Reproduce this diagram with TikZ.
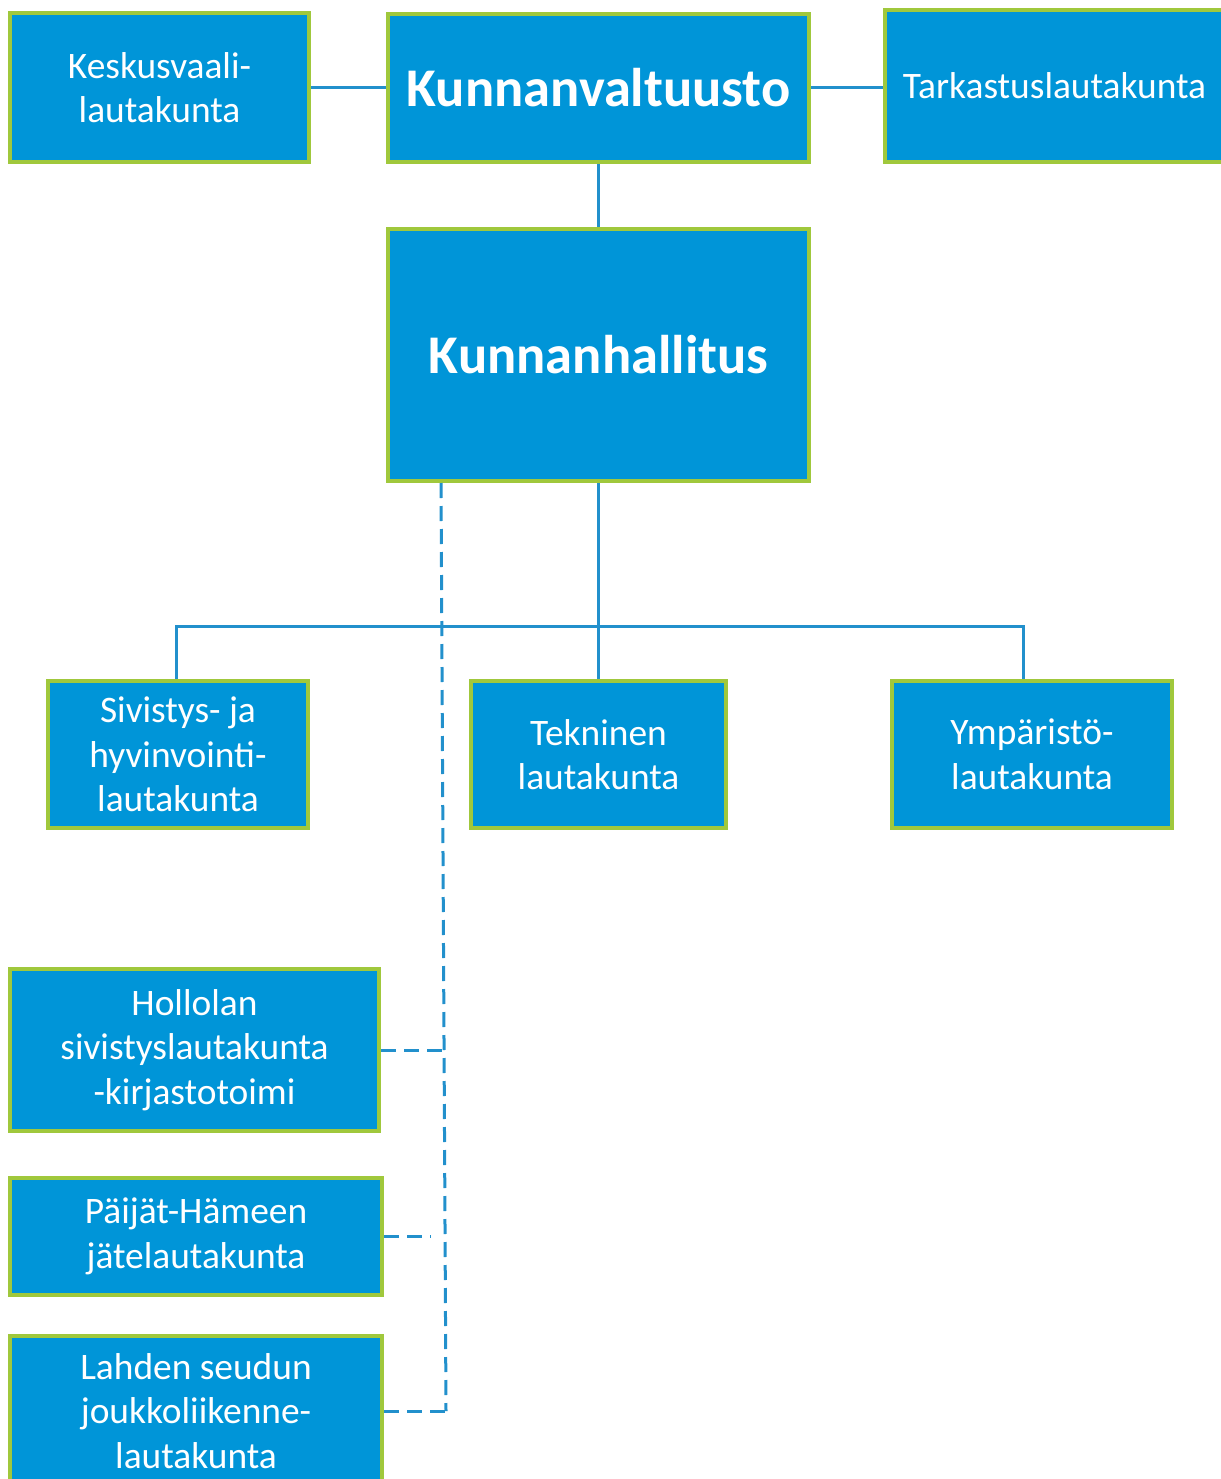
\documentclass[tikz,border=0pt]{standalone}
\usepackage{fontspec}
\setmainfont{Carlito}
\definecolor{boxfill}{RGB}{0,149,216}
\definecolor{boxedge}{RGB}{160,200,60}
\definecolor{linkcol}{RGB}{34,144,204}
\tikzset{
  orgbox/.style={draw=boxedge, fill=boxfill, line width=4pt, inner sep=0pt,
    text=white, align=center, font=\fontsize{37.4}{44.5}\selectfont},
  bigbox/.style={orgbox, font=\bfseries\fontsize{54.5}{60}\selectfont},
  link/.style={draw=linkcol, line width=3pt},
  dlink/.style={link, dash pattern=on 15pt off 8pt}
}
\begin{document}
\begin{tikzpicture}[x=1pt,y=-1pt]
\useasboundingbox (0,0) rectangle (1220,1479);
\node[orgbox, minimum width=299pt, minimum height=149pt] (kv) at (159.5,87.5) {Keskusvaali-\\lautakunta};
\node[bigbox, minimum width=421pt, minimum height=148pt] (val) at (598.5,88) {Kunnanvaltuusto};
\node[orgbox, minimum width=339pt, minimum height=152pt] (tark) at (1054.5,86) {Tarkastuslautakunta};
\node[bigbox, minimum width=421pt, minimum height=252pt] (hall) at (598.5,355) {Kunnanhallitus};
\node[orgbox, minimum width=260pt, minimum height=147pt] (siv) at (178,754.5) {Sivistys- ja\\hyvinvointi-\\lautakunta};
\node[orgbox, minimum width=255pt, minimum height=147pt] (tek) at (598.5,754.5) {Tekninen\\lautakunta};
\node[orgbox, minimum width=280pt, minimum height=147pt] (ymp) at (1032,754.5) {Ympäristö-\\lautakunta};
\node[orgbox, minimum width=369pt, minimum height=162pt] (hol) at (194.5,1050) {Hollolan\\sivistyslautakunta\\-kirjastotoimi};
\node[orgbox, minimum width=372pt, minimum height=117pt] (paij) at (196,1236.5) {Päijät-Hämeen\\jätelautakunta};
\node[orgbox, minimum width=372pt, minimum height=150pt] (lah) at (196,1411) {Lahden seudun\\joukkoliikenne-\\lautakunta};
% solid connectors
\coordinate (j) at (598.5,626);
\coordinate (jl) at (176,626);
\coordinate (jr) at (1023,626);
\draw[link] (val.west -| kv.east) -- (val.west);
\draw[link] (val.east) -- (val.east -| tark.west);
\draw[link] (val.south) -- (hall.north);
\draw[link] (hall.south) -- (tek.north);
\draw[link] (jl |- siv.north) -- (jl) -- (jr) -- (jr |- ymp.north);
% dashed connectors
\coordinate (dt) at (441,483);
\coordinate (db) at (446,1411);
\coordinate (dh) at (444.5,1050);
\coordinate (dp) at (431,1236.5);
\draw[dlink] (dt) -- (db);
\draw[dlink] (hol.east) -- (dh);
\draw[dlink] (paij.east) -- (dp);
\draw[dlink] (lah.east) -- (db);
\end{tikzpicture}
\end{document}
